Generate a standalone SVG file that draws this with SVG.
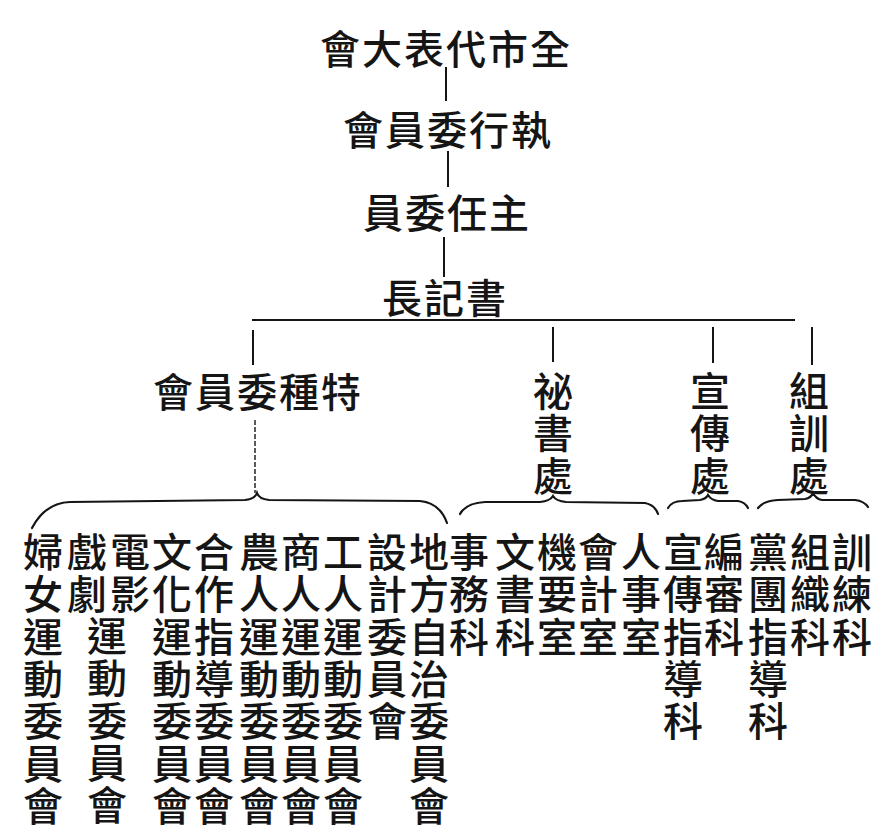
<svg xmlns="http://www.w3.org/2000/svg" width="887" height="835" viewBox="0 0 887 835">
<style>
.t{font-family:"Noto Sans CJK TC","Noto Sans CJK SC",sans-serif;font-size:40px;font-weight:500;fill:#151515;text-anchor:middle;dominant-baseline:central}
.h{letter-spacing:2px}
.v{font-family:"Noto Sans CJK TC","Noto Sans CJK SC",sans-serif;font-size:40px;font-weight:500;fill:#151515;writing-mode:vertical-rl;text-anchor:start;letter-spacing:2.3px}
.ln{stroke:#151515;stroke-width:2;fill:none}
.br{stroke:#151515;stroke-width:2.2;fill:none;stroke-linecap:round}
.ds{stroke:#333;stroke-width:1.6;fill:none;stroke-dasharray:5 2}
</style>
<rect width="887" height="835" fill="#fff"/>
<g id="connectors">
<line class="ln" x1="446" y1="67" x2="446" y2="101"/>
<line class="ln" x1="448" y1="151" x2="448" y2="187"/>
<line class="ln" x1="444" y1="237" x2="444" y2="277"/>
<line class="ln" x1="252" y1="320" x2="795" y2="320" stroke-width="2.6"/>
<line class="ln" x1="253" y1="330" x2="253" y2="365"/>
<line class="ln" x1="553" y1="327" x2="553" y2="362"/>
<line class="ln" x1="713" y1="327" x2="713" y2="363"/>
<line class="ln" x1="812" y1="327" x2="812" y2="365"/>
<line class="ds" x1="255" y1="420" x2="255" y2="493"/>
<path class="br" d="M32,528 Q45,503 70,502 L245,500 Q255,499 257,493 Q259,499 269,500 L420,501 Q440,503 447,523"/>
<path class="br" d="M460,514 Q466,503 485,502 L540,502 Q550,501 553,496 Q556,501 566,502 L645,503 Q655,505 658,514"/>
<path class="br" d="M668,508 Q672,501 682,501 L700,500 Q706,499 708,495 Q711,500 718,501 L738,501 Q745,502 748,508"/>
<path class="br" d="M758,508 Q763,501 778,500 L805,499 Q811,498 813,493 Q816,499 822,500 L855,500 Q864,501 868,507"/>
</g>
<g id="n-congress"><text class="t h" x="446" y="47">會大表代市全</text></g>
<g id="n-exec"><text class="t h" x="448" y="128">會員委行執</text></g>
<g id="n-chair"><text class="t h" x="447" y="211">員委任主</text></g>
<g id="n-secgen"><text class="t h" x="445" y="296">長記書</text></g>
<g id="n-special"><text class="t h" x="258" y="390">會員委種特</text></g>
<g id="n-secretariat"><text class="v" x="553" y="371">祕書處</text></g>
<g id="n-propaganda"><text class="v" x="710" y="371">宣傳處</text></g>
<g id="n-training"><text class="v" x="809" y="371">組訓處</text></g>
<g id="n-women"><text class="v" x="43" y="532">婦女運動委員會</text></g>
<g id="n-drama-film"><text class="v" x="87" y="532">戲劇</text><text class="v" x="130" y="532">電影</text><text class="v" x="107" y="616">運動委員會</text></g>
<g id="n-culture"><text class="v" x="172" y="532">文化運動委員會</text></g>
<g id="n-coop"><text class="v" x="214" y="532">合作指導委員會</text></g>
<g id="n-farmer"><text class="v" x="259" y="532">農人運動委員會</text></g>
<g id="n-merchant"><text class="v" x="301" y="532">商人運動委員會</text></g>
<g id="n-worker"><text class="v" x="343" y="532">工人運動委員會</text></g>
<g id="n-design"><text class="v" x="387" y="532">設計委員會</text></g>
<g id="n-selfgov"><text class="v" x="429" y="532">地方自治委員會</text></g>
<g id="n-affairs"><text class="v" x="469" y="532">事務科</text></g>
<g id="n-documents"><text class="v" x="515" y="532">文書科</text></g>
<g id="n-confidential"><text class="v" x="557" y="532">機要室</text></g>
<g id="n-accounting"><text class="v" x="598" y="532">會計室</text></g>
<g id="n-personnel"><text class="v" x="641" y="532">人事室</text></g>
<g id="n-prop-guide"><text class="v" x="683" y="532">宣傳指導科</text></g>
<g id="n-editing"><text class="v" x="724" y="532">編審科</text></g>
<g id="n-party-guide"><text class="v" x="768" y="532">黨團指導科</text></g>
<g id="n-organization"><text class="v" x="810" y="532">組織科</text></g>
<g id="n-drill"><text class="v" x="852" y="532">訓練科</text></g>
</svg>
